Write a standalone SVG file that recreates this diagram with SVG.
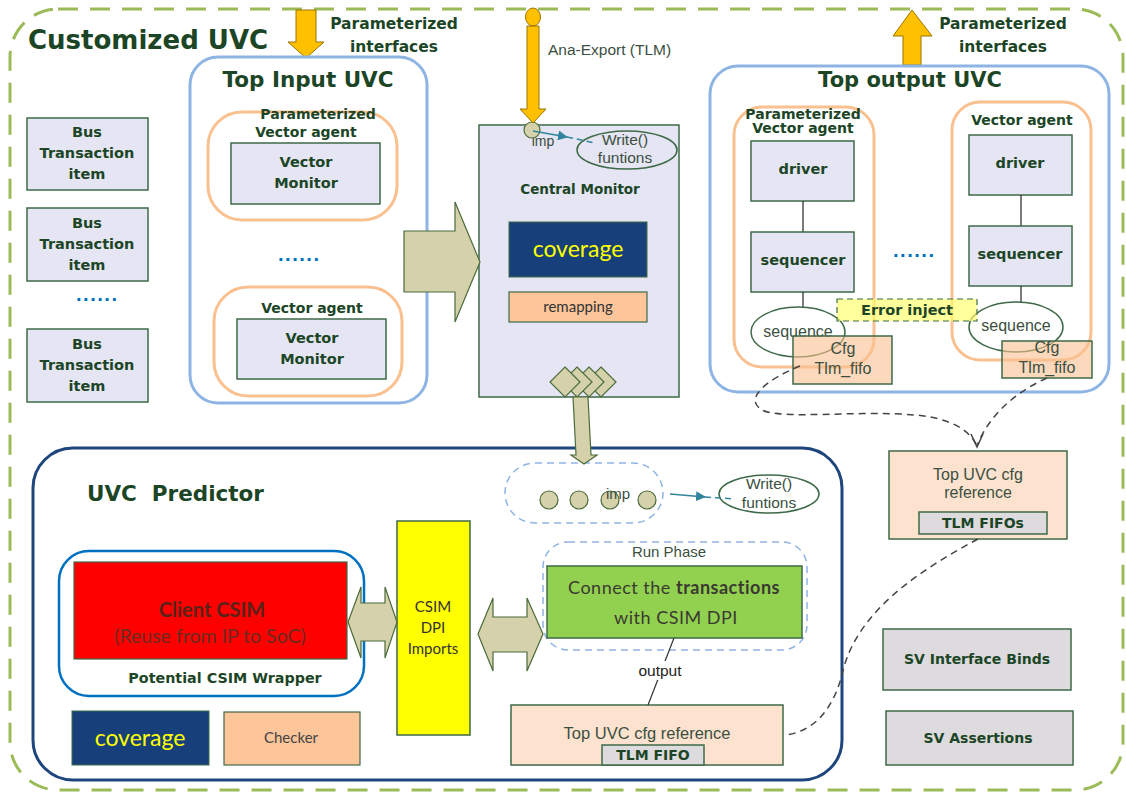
<svg xmlns="http://www.w3.org/2000/svg" width="1126" height="794" viewBox="0 0 1126 794">
<style>
.box{fill:#e5e5f4;stroke:#3e6a48;stroke-width:1.5}
.gray{fill:#dddbde;stroke:#3e6a48;stroke-width:1.5}
.peach{fill:#fde3cf;stroke:#3e6a48;stroke-width:1.5}
.cfg{fill:#fac090;fill-opacity:0.6;stroke:#3e6a48;stroke-width:1.5}
.orange{fill:none;stroke:#fac090;stroke-width:3}
.blue{fill:none;stroke:#8eb4e3;stroke-width:3}
.tan{fill:#d5d2ab;stroke:#4b6b3b;stroke-width:1.2}
.yel{fill:#ffc000;stroke:#9a7400;stroke-width:1}
.b{font-family:"DejaVu Sans",Verdana,sans-serif;font-weight:bold;fill:#1c4526;text-anchor:middle}
.l{font-family:"Liberation Sans",Arial,sans-serif;fill:#3b4f3f;text-anchor:middle}
.c{font-family:Lato,"Liberation Sans",sans-serif;text-anchor:middle}
.dash{fill:none;stroke:#444;stroke-width:1.5;stroke-dasharray:7 5}
</style>
<defs>
<marker id="tri" viewBox="0 0 10 10" refX="9" refY="5" markerWidth="10" markerHeight="10" markerUnits="userSpaceOnUse" orient="auto">
<path d="M0,0 L10,5 L0,10 z" fill="#31859c"/>
</marker>
</defs>
<rect width="1126" height="794" fill="#ffffff"/>

<g id="customized-uvc">
<rect x="10" y="9" width="1113" height="781" rx="48" fill="none" stroke="#9bbb59" stroke-width="3" stroke-dasharray="20 12"/>
<text x="28" y="49" class="b" style="text-anchor:start" font-size="26">Customized UVC</text>
</g>

<g id="param-in">
<polygon class="yel" points="296,10 316,10 316,42 324,42 306,58 288,42 296,42"/>
<text x="394" y="29" class="b" font-size="15.5">Parameterized</text>
<text x="394" y="52" class="b" font-size="15.5">interfaces</text>
</g>

<g id="param-out">
<polygon class="yel" points="903,65 921,65 921,36 932,36 912,10 893,36 903,36"/>
<text x="1003" y="29" class="b" font-size="15.5">Parameterized</text>
<text x="1003" y="52" class="b" font-size="15.5">interfaces</text>
</g>

<g id="bus-items">
<rect class="box" x="27" y="118" width="121" height="72"/>
<text class="b" font-size="14.5" x="87" y="137">Bus</text>
<text class="b" font-size="14.5" x="87" y="158">Transaction</text>
<text class="b" font-size="14.5" x="87" y="179">item</text>
<rect class="box" x="27" y="208" width="121" height="73"/>
<text class="b" font-size="14.5" x="87" y="228">Bus</text>
<text class="b" font-size="14.5" x="87" y="249">Transaction</text>
<text class="b" font-size="14.5" x="87" y="270">item</text>
<text x="97" y="301" font-family="DejaVu Sans,sans-serif" font-weight="bold" font-size="16" fill="#0070c0" text-anchor="middle" letter-spacing="1">......</text>
<rect class="box" x="27" y="329" width="121" height="73"/>
<text class="b" font-size="14.5" x="87" y="349">Bus</text>
<text class="b" font-size="14.5" x="87" y="370">Transaction</text>
<text class="b" font-size="14.5" x="87" y="391">item</text>
</g>

<g id="top-input-uvc">
<rect class="blue" x="190" y="57" width="237" height="346" rx="28"/>
<text class="b" font-size="21.5" x="308" y="87">Top Input UVC</text>
<rect class="orange" x="208" y="112" width="189" height="108" rx="34"/>
<rect class="box" x="231" y="143" width="149" height="61"/>
<text class="b" font-size="14" x="318" y="119">Parameterized</text>
<text class="b" font-size="14" x="306" y="137">Vector agent</text>
<text class="b" font-size="14.5" x="306" y="167">Vector</text>
<text class="b" font-size="14.5" x="306" y="188">Monitor</text>
<text x="299" y="261" font-family="DejaVu Sans,sans-serif" font-weight="bold" font-size="16" fill="#0070c0" text-anchor="middle" letter-spacing="1">......</text>
<rect class="orange" x="214" y="287" width="188" height="109" rx="34"/>
<text class="b" font-size="14" x="312" y="313">Vector agent</text>
<rect class="box" x="237" y="319" width="149" height="60"/>
<text class="b" font-size="14.5" x="312" y="343">Vector</text>
<text class="b" font-size="14.5" x="312" y="364">Monitor</text>
</g>

<g id="central-monitor">
<rect class="box" x="479" y="125" width="200" height="272"/>
<text class="l" font-size="14" x="543" y="146">imp</text>
<ellipse cx="532" cy="130" rx="8" ry="8" class="tan"/>
<ellipse cx="627" cy="150" rx="50" ry="19" fill="#e5e5f4" stroke="#3e6a48" stroke-width="1.5"/>
<text class="l" font-size="15.5" x="625" y="145">Write()</text>
<text class="l" font-size="15.5" x="625" y="163">funtions</text>
<text class="b" font-size="13.5" x="580" y="194">Central Monitor</text>
<rect x="509" y="222" width="138" height="55" fill="#17407a" stroke="#3e6a48" stroke-width="1"/>
<text class="c" font-size="23" fill="#ffff00" x="578" y="257">coverage</text>
<rect x="509" y="292" width="138" height="30" fill="#fcc59a" stroke="#3e6a48" stroke-width="1.2"/>
<text class="c" font-size="15" fill="#333" x="578" y="312">remapping</text>
<polygon class="tan" points="601,367 616,382 601,397 586,382"/>
<polygon class="tan" points="589,367 604,382 589,397 574,382"/>
<polygon class="tan" points="577,367 592,382 577,397 562,382"/>
<polygon class="tan" points="565,367 580,382 565,397 550,382"/>
</g>

<g id="ana-export">
<ellipse cx="533" cy="17" rx="7.5" ry="9" class="yel"/>
<polygon class="yel" points="527,26 539,26 539,109 546,109 533,123 520,109 527,109"/>
<text x="548" y="55" font-family="Liberation Sans,Arial,sans-serif" font-size="15.5" fill="#3b4f3f">Ana-Export (TLM)</text>
</g>

<g id="top-output-uvc">
<rect class="blue" x="710" y="66" width="399" height="326" rx="28"/>
<text class="b" font-size="21" x="910" y="87">Top output UVC</text>
<rect class="orange" x="734" y="107" width="140" height="260" rx="28"/>
<text class="b" font-size="14" x="803" y="119">Parameterized</text>
<text class="b" font-size="14" x="803" y="133">Vector agent</text>
<rect class="box" x="751" y="141" width="103" height="60"/>
<text class="b" font-size="14.5" x="803" y="174">driver</text>
<line x1="803" y1="201" x2="803" y2="232" stroke="#222" stroke-width="1.2"/>
<rect class="box" x="751" y="232" width="103" height="60"/>
<text class="b" font-size="14.5" x="803" y="265">sequencer</text>
<line x1="803" y1="292" x2="803" y2="307" stroke="#222" stroke-width="1.2"/>
<ellipse cx="798" cy="332" rx="47" ry="25" fill="#ffffff" stroke="#3e6a48" stroke-width="1.5"/>
<text class="l" font-size="16" x="798" y="337">sequence</text>
<rect class="cfg" x="793" y="336" width="99" height="48"/>
<text class="l" font-size="16" x="843" y="354">Cfg</text>
<text class="l" font-size="16" x="843" y="374">Tlm_fifo</text>

<text x="914" y="257" font-family="DejaVu Sans,sans-serif" font-weight="bold" font-size="16" fill="#0070c0" text-anchor="middle" letter-spacing="1">......</text>

<rect class="orange" x="952" y="102" width="139" height="258" rx="28"/>
<text class="b" font-size="14" x="1022" y="125">Vector agent</text>
<rect class="box" x="969" y="135" width="103" height="60"/>
<text class="b" font-size="14.5" x="1020" y="168">driver</text>
<line x1="1021" y1="195" x2="1021" y2="226" stroke="#222" stroke-width="1.2"/>
<rect class="box" x="969" y="226" width="103" height="60"/>
<text class="b" font-size="14.5" x="1020" y="259">sequencer</text>
<line x1="1021" y1="286" x2="1021" y2="302" stroke="#222" stroke-width="1.2"/>
<ellipse cx="1016" cy="327" rx="47" ry="25" fill="#ffffff" stroke="#3e6a48" stroke-width="1.5"/>
<text class="l" font-size="16" x="1016" y="331">sequence</text>
<rect class="cfg" x="1002" y="341" width="90" height="37"/>
<text class="l" font-size="16" x="1047" y="353">Cfg</text>
<text class="l" font-size="16" x="1047" y="373">Tlm_fifo</text>
</g>

<g id="error-inject">
<rect x="837" y="299" width="140" height="22" fill="#ffff66" fill-opacity="0.65" stroke="#3e6a48" stroke-width="1.2" stroke-dasharray="6 4"/>
<text class="b" font-size="14.5" x="907" y="315">Error inject</text>
</g>

<g id="cfg-ref-top">
<rect class="peach" x="889" y="451" width="178" height="88"/>
<text class="l" font-size="16" x="978" y="480">Top UVC cfg</text>
<text class="l" font-size="16" x="978" y="498">reference</text>
<rect class="gray" x="919" y="512" width="128" height="22"/>
<text class="b" font-size="14" x="983" y="528">TLM FIFOs</text>
</g>

<g id="sv-binds">
<rect class="gray" x="883" y="629" width="188" height="61"/>
<text class="b" font-size="14" x="977" y="664">SV Interface Binds</text>
</g>
<g id="sv-assertions">
<rect class="gray" x="886" y="711" width="187" height="54"/>
<text class="b" font-size="14" x="978" y="743">SV Assertions</text>
</g>

<g id="uvc-predictor">
<rect x="33" y="448" width="809" height="332" rx="40" fill="none" stroke="#1f467c" stroke-width="3"/>
<text class="b" font-size="21.5" x="87" y="501" style="text-anchor:start" xml:space="preserve">UVC  Predictor</text>
</g>

<g id="csim-wrapper">
<rect x="59" y="551" width="305" height="145" rx="30" fill="none" stroke="#0070c0" stroke-width="2.5"/>
<rect x="74" y="562" width="273" height="97" fill="#ff0000" stroke="#3e6a48" stroke-width="1.2"/>
<text class="c" font-size="20" font-weight="bold" fill="#5a2218" x="212" y="617">Client CSIM</text>
<text class="c" font-size="19.5" fill="#6b2a20" x="210" y="643">(Reuse from IP to SoC)</text>
<text class="b" font-size="14.3" x="225" y="683">Potential CSIM Wrapper</text>
</g>

<g id="predictor-coverage">
<rect x="72" y="711" width="137" height="54" fill="#17407a" stroke="#3e6a48" stroke-width="1"/>
<text class="c" font-size="23" fill="#ffff00" x="140" y="746">coverage</text>
</g>
<g id="checker">
<rect x="224" y="712" width="136" height="53" fill="#fcc59a" stroke="#3e6a48" stroke-width="1.2"/>
<text class="c" font-size="15" fill="#444" x="291" y="743">Checker</text>
</g>

<g id="csim-dpi">
<rect x="397" y="521" width="73" height="214" fill="#ffff00" stroke="#3e6a48" stroke-width="1.5"/>
<text class="c" font-size="15" fill="#333" x="433" y="612">CSIM</text>
<text class="c" font-size="15" fill="#333" x="433" y="633">DPI</text>
<text class="c" font-size="15" fill="#333" x="433" y="654">Imports</text>
</g>

<g id="imp-port">
<rect x="505" y="463" width="158" height="60" rx="30" fill="none" stroke="#8eb4e3" stroke-width="1.5" stroke-dasharray="7 5"/>
<circle cx="549" cy="500" r="9" class="tan"/>
<circle cx="579" cy="500" r="9" class="tan"/>
<circle cx="610" cy="500" r="9" class="tan"/>
<circle cx="647" cy="500" r="9" class="tan"/>
<text class="l" font-size="15" x="618" y="499">imp</text>
</g>

<g id="write-fn-pred">
<ellipse cx="769" cy="494" rx="50" ry="19" fill="#ffffff" stroke="#3e6a48" stroke-width="1.5"/>
<text class="l" font-size="15.5" x="769" y="489">Write()</text>
<text class="l" font-size="15.5" x="769" y="508">funtions</text>
</g>

<g id="run-phase">
<rect x="543" y="542" width="264" height="108" rx="25" fill="none" stroke="#8eb4e3" stroke-width="1.5" stroke-dasharray="7 5"/>
<text class="l" font-size="15" fill="#333" x="669" y="557">Run Phase</text>
<rect x="547" y="566" width="255" height="72" fill="#92d050" stroke="#3e6a48" stroke-width="1.5"/>
<text class="c" font-size="18" fill="#3a3a30" x="674" y="594" letter-spacing="0.5">Connect the <tspan font-weight="bold">transactions</tspan></text>
<text class="c" font-size="18" fill="#3a3a30" x="676" y="624" letter-spacing="0.5">with CSIM DPI</text>
</g>

<g id="cfg-ref-bottom">
<rect class="peach" x="511" y="705" width="272" height="60"/>
<text class="l" font-size="16.5" x="647" y="739">Top UVC cfg reference</text>
<rect class="gray" x="602" y="745" width="102" height="20"/>
<text class="b" font-size="14" x="653" y="760">TLM FIFO</text>
</g>

<g id="connectors">
<polygon class="tan" points="404,231 455,231 455,202 480,262 455,322 455,292 404,292"/>
<polygon class="tan" points="573,397 588,397 591,455 597,455 584,464 571,455 576,455"/>
<polygon class="tan" points="348,622 361,587 361,603 385,603 385,587 397,622 385,658 385,641 361,641 361,658"/>
<polygon class="tan" points="478,634 493,598 493,617 527,617 527,598 543,634 527,671 527,652 493,652 493,671"/>
<line x1="533" y1="131" x2="567" y2="137" stroke="#31859c" stroke-width="1.5" marker-end="url(#tri)"/>
<line x1="567" y1="137" x2="595" y2="143" stroke="#31859c" stroke-width="1.5" stroke-dasharray="6 4"/>
<line x1="670" y1="494" x2="705" y2="497" stroke="#31859c" stroke-width="1.5" marker-end="url(#tri)"/>
<line x1="705" y1="497" x2="735" y2="499" stroke="#31859c" stroke-width="1.5" stroke-dasharray="6 4"/>
<line x1="674" y1="638" x2="648" y2="705" stroke="#333" stroke-width="1.2"/>
<rect x="634" y="661" width="52" height="19" fill="#ffffff"/>
<text x="660" y="676" font-family="Liberation Sans,Arial,sans-serif" font-size="15.5" fill="#222" text-anchor="middle">output</text>
<path class="dash" d="M 800 366 C 770 378, 742 398, 762 410 C 780 420, 860 410, 915 415 C 950 418, 970 430, 977 446"/>
<path class="dash" d="M 1047 378 C 1020 390, 990 412, 977 446"/>
<path d="M 971 434 L 977 447 L 983 434" fill="none" stroke="#444" stroke-width="1.5"/>
<path class="dash" d="M 978 539 C 920 570, 855 612, 842 675 C 832 712, 812 732, 785 735"/>
</g>
</svg>
